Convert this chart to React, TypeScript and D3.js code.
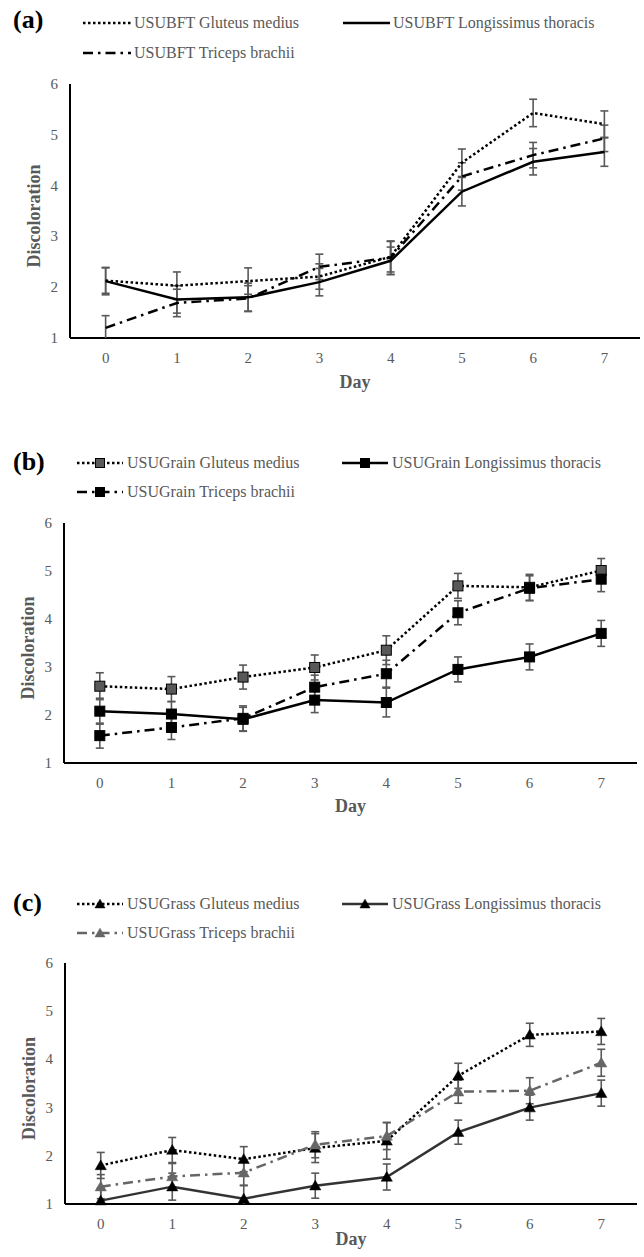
import React from "react";
import * as d3 from "d3";

// ---------- data ----------
const days = [0, 1, 2, 3, 4, 5, 6, 7];
const yTicks = [1, 2, 3, 4, 5, 6];

const bftLabels = ["USUBFT Gluteus medius", "USUBFT Longissimus thoracis", "USUBFT Triceps brachii"];
const bftGM = [2.13, 2.03, 2.12, 2.21, 2.6, 4.45, 5.43, 5.21];
const bftGMErr = [0.25, 0.27, 0.26, 0.25, 0.3, 0.27, 0.27, 0.26];
const bftLT = [2.12, 1.76, 1.8, 2.1, 2.52, 3.88, 4.47, 4.66];
const bftLTErr = [0.27, 0.27, 0.28, 0.27, 0.27, 0.28, 0.26, 0.28];
const bftTB = [1.2, 1.69, 1.78, 2.4, 2.58, 4.18, 4.6, 4.93];
const bftTBErr = [0.24, 0.27, 0.25, 0.25, 0.33, 0.27, 0.25, 0.26];

const grainLabels = ["USUGrain Gluteus medius", "USUGrain Longissimus thoracis", "USUGrain Triceps brachii"];
const grainGM = [2.6, 2.54, 2.79, 2.99, 3.35, 4.69, 4.66, 5.01];
const grainGMErr = [0.28, 0.26, 0.25, 0.26, 0.3, 0.26, 0.27, 0.25];
const grainLT = [2.08, 2.02, 1.91, 2.31, 2.26, 2.95, 3.21, 3.7];
const grainLTErr = [0.27, 0.26, 0.25, 0.26, 0.3, 0.26, 0.27, 0.27];
const grainTB = [1.57, 1.74, 1.93, 2.58, 2.86, 4.13, 4.64, 4.83];
const grainTBErr = [0.26, 0.25, 0.26, 0.25, 0.28, 0.25, 0.26, 0.26];

const grassLabels = ["USUGrass Gluteus medius", "USUGrass Longissimus thoracis", "USUGrass Triceps brachii"];
const grassGM = [1.8, 2.12, 1.93, 2.16, 2.31, 3.66, 4.51, 4.58];
const grassGMErr = [0.27, 0.26, 0.26, 0.3, 0.38, 0.26, 0.24, 0.27];
const grassLT = [1.07, 1.36, 1.11, 1.38, 1.56, 2.49, 3.0, 3.3];
const grassLTErr = [0.26, 0.28, 0.28, 0.26, 0.27, 0.25, 0.26, 0.27];
const grassTB = [1.36, 1.57, 1.65, 2.23, 2.41, 3.33, 3.35, 3.93];
const grassTBErr = [0.25, 0.27, 0.27, 0.27, 0.28, 0.24, 0.27, 0.28];

// ---------- styles ----------
const SERIF = "'Liberation Serif', 'Times New Roman', serif";
const GREY = "#595959";
const DOT = "2.5 2.5";
const DASHDOT = "10 5 2.5 5";

type Series = {
  values: number[];
  errs: number[];
  label: string;
  color: string;
  dash: string | null;
  marker: "none" | "square" | "triangle";
  markerFill: string;
};

type Panel = {
  tag: string;
  series: Series[];
  left: number;
  right: number;
  top: number;
  bottom: number;
  legendY: [number, number];
  tagY: number;
  sampleX: [number, number];
  textX: number;
  sample2X: [number, number];
  text2X: number;
  tickLabelDy: number;
  dayY: number;
};

const panels: Panel[] = [
  {
    tag: "(a)",
    series: [
      { values: bftGM, errs: bftGMErr, label: bftLabels[0], color: "#000", dash: DOT, marker: "none", markerFill: "#000" },
      { values: bftLT, errs: bftLTErr, label: bftLabels[1], color: "#000", dash: null, marker: "none", markerFill: "#000" },
      { values: bftTB, errs: bftTBErr, label: bftLabels[2], color: "#000", dash: DASHDOT, marker: "none", markerFill: "#000" },
    ],
    left: 70, right: 640, top: 84, bottom: 338,
    legendY: [28, 58], tagY: 28,
    sampleX: [83, 131], textX: 134, sample2X: [343, 390], text2X: 393,
    tickLabelDy: 25, dayY: 388,
  },
  {
    tag: "(b)",
    series: [
      { values: grainGM, errs: grainGMErr, label: grainLabels[0], color: "#000", dash: DOT, marker: "square", markerFill: GREY },
      { values: grainLT, errs: grainLTErr, label: grainLabels[1], color: "#000", dash: null, marker: "square", markerFill: "#000" },
      { values: grainTB, errs: grainTBErr, label: grainLabels[2], color: "#000", dash: DASHDOT, marker: "square", markerFill: "#000" },
    ],
    left: 64, right: 637, top: 523, bottom: 763,
    legendY: [468, 497], tagY: 470,
    sampleX: [77, 123], textX: 127, sample2X: [342, 388], text2X: 392,
    tickLabelDy: 25, dayY: 812,
  },
  {
    tag: "(c)",
    series: [
      { values: grassGM, errs: grassGMErr, label: grassLabels[0], color: "#000", dash: DOT, marker: "triangle", markerFill: "#000" },
      { values: grassLT, errs: grassLTErr, label: grassLabels[1], color: "#333", dash: null, marker: "triangle", markerFill: "#000" },
      { values: grassTB, errs: grassTBErr, label: grassLabels[2], color: "#666", dash: DASHDOT, marker: "triangle", markerFill: "#666" },
    ],
    left: 65, right: 637, top: 963, bottom: 1204,
    legendY: [909, 938], tagY: 911,
    sampleX: [77, 123], textX: 127, sample2X: [342, 388], text2X: 392,
    tickLabelDy: 25, dayY: 1245,
  },
];

function Marker({ kind, x, y, fill, size }: { kind: string; x: number; y: number; fill: string; size: number }) {
  if (kind === "square") {
    return <rect x={x - size / 2} y={y - size / 2} width={size} height={size} fill={fill} stroke="#000" strokeWidth={1} />;
  }
  if (kind === "triangle") {
    const sym = d3.symbol().type(d3.symbolTriangle).size(size * size * 0.55)();
    return <path d={sym || ""} transform={`translate(${x},${y + 1})`} fill={fill} stroke={fill} strokeWidth={0.5} />;
  }
  return null;
}

function PanelView({ p }: { p: Panel }) {
  const x = d3.scalePoint<number>().domain(days).range([p.left, p.right]).padding(0.5);
  const y = d3.scaleLinear().domain([1, 6]).range([p.bottom, p.top]);
  const line = d3
    .line<number>()
    .x((_, i) => x(days[i]) as number)
    .y((v) => y(v));

  const legendPos = [
    { sx: p.sampleX, tx: p.textX, ly: p.legendY[0] },
    { sx: p.sample2X, tx: p.text2X, ly: p.legendY[0] },
    { sx: p.sampleX, tx: p.textX, ly: p.legendY[1] },
  ];

  return (
    <g>
      <text x={13} y={p.tagY} fontFamily={SERIF} fontWeight="bold" fontSize={26} fill="#000">
        {p.tag}
      </text>
      {p.series.map((s, i) => {
        const lp = legendPos[i];
        const midY = lp.ly - 5;
        return (
          <g key={"lg" + i}>
            <line
              x1={lp.sx[0]}
              x2={lp.sx[1]}
              y1={midY}
              y2={midY}
              stroke={s.color}
              strokeWidth={2.5}
              strokeDasharray={s.dash || undefined}
            />
            <Marker kind={s.marker} x={(lp.sx[0] + lp.sx[1]) / 2} y={midY} fill={s.markerFill} size={9} />
            <text x={lp.tx} y={lp.ly} fontFamily={SERIF} fontSize={16} fill={GREY}>
              {s.label}
            </text>
          </g>
        );
      })}
      <line x1={p.left} x2={p.left} y1={p.top} y2={p.bottom} stroke="#000" strokeWidth={2} />
      <line x1={p.left} x2={p.right} y1={p.bottom} y2={p.bottom} stroke="#000" strokeWidth={2} />
      {yTicks.map((t) => (
        <text key={"yt" + t} x={p.left - 12} y={y(t) + 5} textAnchor="end" fontFamily={SERIF} fontSize={15} fill={GREY}>
          {t}
        </text>
      ))}
      {days.map((d) => (
        <text key={"xt" + d} x={x(d)} y={p.bottom + p.tickLabelDy} textAnchor="middle" fontFamily={SERIF} fontSize={15} fill={GREY}>
          {d}
        </text>
      ))}
      <text
        transform={`translate(${p.left - 30},${(p.top + p.bottom) / 2 + 5}) rotate(-90)`}
        textAnchor="middle"
        fontFamily={SERIF}
        fontWeight="bold"
        fontSize={18}
        fill={GREY}
      >
        Discoloration
      </text>
      <text x={(p.left + p.right) / 2} y={p.dayY} textAnchor="middle" fontFamily={SERIF} fontWeight="bold" fontSize={18} fill={GREY}>
        Day
      </text>
      {p.series.map((s, si) =>
        s.values.map((v, i) => {
          const cx = x(days[i]) as number;
          const hi = y(Math.min(v + s.errs[i], 6));
          const loV = v - s.errs[i];
          const lo = y(Math.max(loV, 1));
          return (
            <g key={"eb" + si + "-" + i} stroke={GREY} strokeWidth={1.6}>
              <line x1={cx} x2={cx} y1={hi} y2={lo} />
              <line x1={cx - 4} x2={cx + 4} y1={hi} y2={hi} />
              {loV >= 1 && <line x1={cx - 4} x2={cx + 4} y1={lo} y2={lo} />}
            </g>
          );
        })
      )}
      {p.series.map((s, si) => (
        <path
          key={"ln" + si}
          d={line(s.values) || ""}
          fill="none"
          stroke={s.color}
          strokeWidth={2.5}
          strokeDasharray={s.dash || undefined}
        />
      ))}
      {p.series.map((s, si) =>
        s.values.map((v, i) => (
          <Marker key={"mk" + si + "-" + i} kind={s.marker} x={x(days[i]) as number} y={y(v)} fill={s.markerFill} size={10} />
        ))
      )}
    </g>
  );
}

export default function App() {
  return (
    <svg
      width={644}
      height={1257}
      viewBox="0 0 644 1257"
      style={{ position: "absolute", left: 0, top: 0, background: "#fff" }}
    >
      <rect x={0} y={0} width={644} height={1257} fill="#fff" />
      {panels.map((p) => (
        <PanelView key={p.tag} p={p} />
      ))}
    </svg>
  );
}
